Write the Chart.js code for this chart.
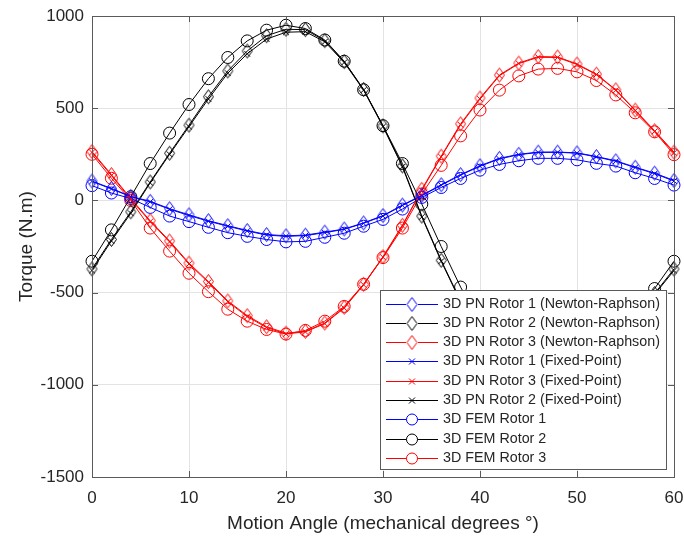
<!DOCTYPE html>
<html>
<head>
<meta charset="utf-8">
<script src="https://cdn.jsdelivr.net/npm/chart.js@4.4.1/dist/chart.umd.min.js"></script>
<style>
  body { margin: 0; background: #fff; }
  canvas { display: block; }
</style>
</head>
<body>
<canvas id="torqueChart" width="684" height="537"></canvas>
<script>
const angles = [0, 2, 4, 6, 8, 10, 12, 14, 16, 18, 20, 22, 24, 26, 28, 30, 32, 34, 36, 38, 40, 42, 44, 46, 48, 50, 52, 54, 56, 58, 60];

const nrRotor1 = [105, 65, 22, -5, -45, -78, -110, -137, -163, -185, -192, -188, -172, -155, -122, -82, -25, 28, 85, 140, 188, 228, 250, 262, 262, 258, 238, 215, 180, 148, 108];
const nrRotor2 = [-372, -212, -62, 100, 256, 408, 562, 702, 810, 893, 928, 926, 866, 752, 602, 404, 187, -85, -325, -545, -725, -880, -965, -1000, -995, -950, -880, -770, -635, -505, -372];
const nrRotor3 = [265, 140, 10, -110, -220, -340, -440, -545, -625, -685, -720, -710, -665, -580, -455, -305, -135, 60, 240, 415, 555, 680, 745, 780, 778, 740, 685, 600, 490, 378, 262];

const fpRotor1 = [103, 62, 20, -8, -48, -82, -113, -140, -166, -188, -195, -191, -175, -157, -124, -85, -28, 25, 82, 137, 185, 225, 248, 260, 261, 256, 236, 212, 178, 145, 105];
const fpRotor3 = [260, 135, 5, -115, -225, -345, -445, -550, -630, -690, -724, -713, -668, -584, -458, -308, -138, 55, 236, 410, 550, 676, 742, 776, 775, 737, 682, 597, 487, 374, 258];
const fpRotor2 = [-380, -220, -70, 95, 250, 400, 550, 690, 795, 875, 912, 915, 860, 748, 598, 400, 182, -90, -330, -550, -730, -885, -970, -1005, -1000, -955, -885, -775, -640, -510, -380];

const femRotor1 = [80, 40, 10, -38, -85, -115, -146, -175, -195, -212, -225, -222, -200, -178, -140, -103, -47, 16, 70, 119, 164, 195, 215, 228, 228, 220, 201, 186, 150, 119, 83];
const femRotor2 = [-330, -160, 20, 200, 365, 520, 660, 775, 865, 923, 950, 932, 870, 755, 600, 405, 200, -20, -250, -470, -660, -810, -905, -945, -940, -900, -830, -725, -600, -478, -330];
const femRotor3 = [250, 120, 0, -150, -275, -395, -495, -590, -655, -700, -725, -705, -655, -575, -455, -310, -150, 35, 190, 350, 490, 598, 675, 712, 716, 697, 650, 572, 475, 372, 248];

const xTicks = [0, 10, 20, 30, 40, 50, 60];
const yTicks = [-1500, -1000, -500, 0, 500, 1000];

const BLUE = '#0000ff', BLACK = '#000000', RED = '#ff0000';
const FONT = '"Liberation Sans", Arial, Helvetica, sans-serif';

// hollow diamond marker like MATLAB's 'd'
function diamond(color) {
  const c = document.createElement('canvas');
  c.width = 13; c.height = 17;
  const g = c.getContext('2d');
  g.strokeStyle = color;
  g.lineWidth = 1;
  g.beginPath();
  g.moveTo(6.5, 1.5);
  g.lineTo(11.5, 8.5);
  g.lineTo(6.5, 15.5);
  g.lineTo(1.5, 8.5);
  g.closePath();
  g.stroke();
  return c;
}

function series(label, values, color, marker) {
  const ds = {
    label: label,
    data: angles.map((a, i) => ({x: a, y: values[i]})),
    borderColor: color,
    borderWidth: 1,
    pointBorderColor: color,
    pointBackgroundColor: 'rgba(0,0,0,0)',
    pointBorderWidth: 1,
    tension: 0,
    clip: false,
    marker: marker
  };
  if (marker === 'd') { ds.pointStyle = diamond(color); ds.pointRadius = 6; }
  if (marker === 'x') { ds.pointStyle = 'crossRot'; ds.pointRadius = 4; }
  if (marker === 'o') { ds.pointStyle = 'circle'; ds.pointRadius = 6; }
  return ds;
}

const datasets = [
  series('3D PN Rotor 1 (Newton-Raphson)', nrRotor1, BLUE, 'd'),
  series('3D PN Rotor 2 (Newton-Raphson)', nrRotor2, BLACK, 'd'),
  series('3D PN Rotor 3 (Newton-Raphson)', nrRotor3, RED, 'd'),
  series('3D PN Rotor 1 (Fixed-Point)', fpRotor1, BLUE, 'x'),
  series('3D PN Rotor 3 (Fixed-Point)', fpRotor3, RED, 'x'),
  series('3D PN Rotor 2 (Fixed-Point)', fpRotor2, BLACK, 'x'),
  series('3D FEM Rotor 1', femRotor1, BLUE, 'o'),
  series('3D FEM Rotor 2', femRotor2, BLACK, 'o'),
  series('3D FEM Rotor 3', femRotor3, RED, 'o')
];

// box around the axes with inward ticks
const axesBox = {
  id: 'axesBox',
  afterDatasetsDraw(chart) {
    const {ctx, chartArea: a, scales} = chart;
    ctx.save();
    ctx.strokeStyle = '#5a5a5a';
    ctx.lineWidth = 1;
    ctx.strokeRect(Math.round(a.left) + 0.5, Math.round(a.top) + 0.5,
      Math.round(a.right - a.left), Math.round(a.bottom - a.top));
    ctx.beginPath();
    xTicks.forEach(v => {
      const px = Math.round(scales.x.getPixelForValue(v)) + 0.5;
      ctx.moveTo(px, a.bottom); ctx.lineTo(px, a.bottom - 6);
      ctx.moveTo(px, a.top); ctx.lineTo(px, a.top + 6);
    });
    yTicks.forEach(v => {
      const py = Math.round(scales.y.getPixelForValue(v)) + 0.5;
      ctx.moveTo(a.left, py); ctx.lineTo(a.left + 6, py);
      ctx.moveTo(a.right, py); ctx.lineTo(a.right - 6, py);
    });
    ctx.stroke();
    ctx.restore();
  }
};

// MATLAB-style legend box inside the axes (line + marker samples)
const boxLegend = {
  id: 'boxLegend',
  afterDraw(chart) {
    const {ctx, chartArea: a} = chart;
    const left = a.right - 294, top = a.top + 274, w = 286, h = 179;
    ctx.save();
    ctx.fillStyle = '#fff';
    ctx.fillRect(left, top, w, h);
    ctx.strokeStyle = '#5a5a5a';
    ctx.lineWidth = 1;
    ctx.strokeRect(left + 0.5, top + 0.5, w, h);
    ctx.font = '14.3px ' + FONT;
    ctx.textBaseline = 'middle';
    chart.data.datasets.forEach((ds, i) => {
      const y = Math.round(top + 13.5 + i * 19.3) + 0.5;
      ctx.strokeStyle = ds.borderColor;
      ctx.beginPath();
      ctx.moveTo(left + 6, y); ctx.lineTo(left + 58, y);
      ctx.stroke();
      const mx = left + 32;
      if (ds.marker === 'd') {
        ctx.fillRect(mx - 6, y - 8, 12, 16);
        ctx.drawImage(ds.pointStyle, mx - 6.5, y - 8.5);
      } else if (ds.marker === 'x') {
        ctx.beginPath();
        ctx.moveTo(mx - 3, y - 3); ctx.lineTo(mx + 3, y + 3);
        ctx.moveTo(mx - 3, y + 3); ctx.lineTo(mx + 3, y - 3);
        ctx.stroke();
      } else {
        ctx.fillStyle = '#fff';
        ctx.beginPath();
        ctx.arc(mx, y, 5.5, 0, Math.PI * 2);
        ctx.fill();
        ctx.stroke();
      }
      ctx.fillStyle = '#262626';
      ctx.fillText(ds.label, left + 63, y);
      ctx.fillStyle = '#fff';
    });
    ctx.restore();
  }
};

new Chart(document.getElementById('torqueChart'), {
  type: 'line',
  data: { datasets: datasets },
  plugins: [axesBox, boxLegend],
  options: {
    responsive: false,
    animation: false,
    devicePixelRatio: 1,
    layout: { padding: { left: 0, top: 16, right: 10, bottom: 0 } },
    plugins: {
      legend: { display: false },
      tooltip: { enabled: false }
    },
    scales: {
      x: {
        type: 'linear',
        min: 0,
        max: 60,
        afterFit: s => { s.height = 60; s.paddingLeft = 0; s.paddingRight = 0; },
        afterBuildTicks: s => { s.ticks = xTicks.map(v => ({value: v})); },
        grid: { color: '#e3e3e3', drawTicks: false },
        border: { color: '#5a5a5a' },
        ticks: {
          padding: 11,
          color: '#262626',
          font: { family: FONT, size: 17 },
          callback: v => String(v)
        },
        title: {
          display: true,
          text: 'Motion Angle (mechanical degrees °)',
          color: '#262626',
          font: { family: FONT, size: 19 },
          padding: { top: 0, bottom: 2 }
        }
      },
      y: {
        min: -1500,
        max: 1000,
        afterFit: s => { s.width = 92; s.paddingTop = 0; s.paddingBottom = 0; },
        afterBuildTicks: s => { s.ticks = yTicks.map(v => ({value: v})); },
        grid: { color: '#e3e3e3', drawTicks: false },
        border: { color: '#5a5a5a' },
        ticks: {
          padding: 8,
          color: '#262626',
          font: { family: FONT, size: 17 },
          callback: v => String(v)
        },
        title: {
          display: true,
          text: 'Torque (N.m)',
          color: '#262626',
          font: { family: FONT, size: 19 },
          padding: { top: 15, bottom: 0 }
        }
      }
    }
  }
});
</script>
</body>
</html>
